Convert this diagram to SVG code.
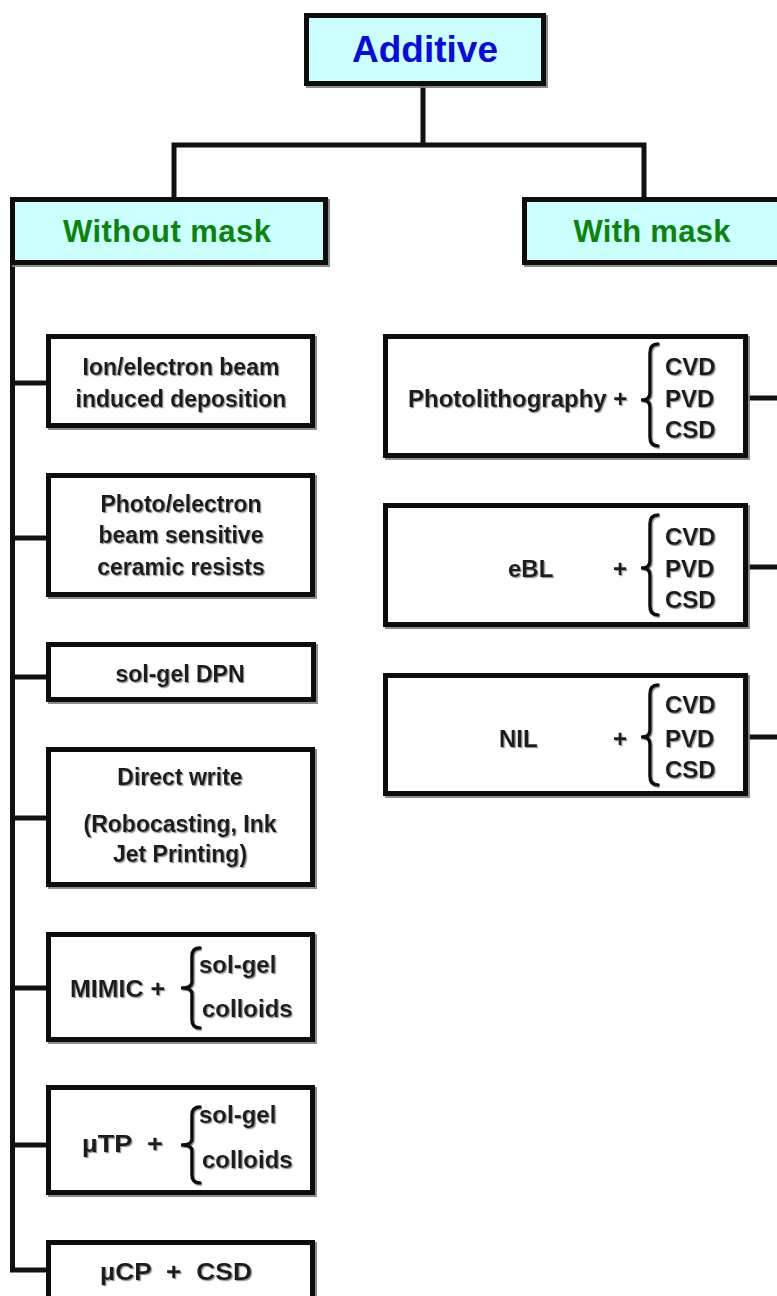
<svg xmlns="http://www.w3.org/2000/svg" width="777" height="1296" viewBox="0 0 777 1296">
<defs>
<filter id="sh" x="-5%" y="-5%" width="115%" height="120%"><feDropShadow dx="2" dy="2" stdDeviation="0.6" flood-color="#808080" flood-opacity="0.9"/></filter>
<filter id="tsh" x="-5%" y="-10%" width="115%" height="130%"><feDropShadow dx="1.2" dy="1.2" stdDeviation="0.5" flood-color="#8a8a8a" flood-opacity="0.9"/></filter>
</defs>
<style>
.box{fill:#ffffff;stroke:#111111;stroke-width:5;filter:url(#sh)}
.hbox{fill:#ccffff;stroke:#111111;stroke-width:5;filter:url(#sh)}
.con{fill:none;stroke:#111111;stroke-width:5;stroke-linejoin:miter;stroke-linecap:square}
.brace{fill:none;stroke:#111111;stroke-width:3.5;stroke-linecap:round;stroke-linejoin:round;filter:url(#tsh)}
.t{font-family:"Liberation Sans",Arial,sans-serif;font-weight:bold;fill:#1a1a1a;filter:url(#tsh)}
.l{font-size:23px;text-anchor:middle}
.r{font-size:24px}
.h1{font-family:"Liberation Sans",Arial,sans-serif;font-weight:bold;font-size:37px;fill:#0a0ae0;text-anchor:middle}
.h2{font-family:"Liberation Sans",Arial,sans-serif;font-weight:bold;font-size:31px;fill:#0a850a;text-anchor:middle}
</style>

<g id="connectors">
<path class="con" d="M423,86 V145 M174,197 V145 H644 V197"/>
<path class="con" d="M12.5,265 V1270 H46"/>
<path class="con" d="M12.5,383 H46 M12.5,538 H46 M12.5,677 H46 M12.5,818 H46 M12.5,988 H46 M12.5,1145 H46"/>
<path class="con" d="M748,398 H780 M748,567 H780 M748,737 H780"/>
</g>

<g id="additive">
<rect class="hbox" x="306.5" y="15.5" width="237" height="68"/>
<text class="h1" x="425" y="62">Additive</text>
</g>

<g id="without-mask">
<rect class="hbox" x="12.5" y="199.5" width="313" height="63"/>
<text class="h2" x="167" y="242" textLength="208" lengthAdjust="spacing">Without mask</text>
</g>

<g id="with-mask">
<rect class="hbox" x="524.5" y="199.5" width="260" height="63"/>
<text class="h2" x="652" y="242" textLength="157" lengthAdjust="spacing">With mask</text>
</g>

<g id="ion-beam">
<rect class="box" x="48.5" y="336.5" width="264" height="89"/>
<text class="t l" x="181" y="375">Ion/electron beam</text>
<text class="t l" x="181" y="407">induced deposition</text>
</g>

<g id="photo-resists">
<rect class="box" x="48.5" y="475.5" width="264" height="119"/>
<text class="t l" x="181" y="512">Photo/electron</text>
<text class="t l" x="181" y="543">beam sensitive</text>
<text class="t l" x="181" y="575">ceramic resists</text>
</g>

<g id="sol-gel-dpn">
<rect class="box" x="48.5" y="644.5" width="265" height="55"/>
<text class="t l" x="180" y="682">sol-gel DPN</text>
</g>

<g id="direct-write">
<rect class="box" x="48.5" y="749.5" width="264" height="135"/>
<text class="t l" x="180" y="785">Direct write</text>
<text class="t l" x="180" y="832">(Robocasting, Ink</text>
<text class="t l" x="180" y="862">Jet Printing)</text>
</g>

<g id="mimic">
<rect class="box" x="48.5" y="934.5" width="264" height="105"/>
<text class="t r" x="70" y="997" textLength="95" lengthAdjust="spacingAndGlyphs">MIMIC +</text>
<path class="brace" d="M200,948 Q192,948 192,956 L192,982 Q192,988 182,988 Q192,988 192,994 L192,1020 Q192,1028 200,1028"/>
<text class="t r" x="199" y="973">sol-gel</text>
<text class="t r" x="202" y="1017">colloids</text>
</g>

<g id="utp">
<rect class="box" x="48.5" y="1087.5" width="264" height="105"/>
<text class="t r" x="82" y="1152" xml:space="preserve" textLength="81" lengthAdjust="spacingAndGlyphs">µTP  +</text>
<path class="brace" d="M200,1107 Q192,1107 192,1115 L192,1139 Q192,1145 182,1145 Q192,1145 192,1151 L192,1175 Q192,1183 200,1183"/>
<text class="t r" x="199" y="1123">sol-gel</text>
<text class="t r" x="202" y="1168">colloids</text>
</g>

<g id="ucp">
<rect class="box" x="48.5" y="1242.5" width="264" height="60"/>
<text class="t r" x="100" y="1280" xml:space="preserve" textLength="152" lengthAdjust="spacingAndGlyphs">µCP  +  CSD</text>
</g>

<g id="photolithography">
<rect class="box" x="385.5" y="336.5" width="360" height="119"/>
<text class="t r" x="408" y="407">Photolithography +</text>
<path class="brace" d="M658,344 Q650,344 650,353 L650,393 Q650,400 642,400 Q650,400 650,407 L650,437 Q650,446 658,446"/>
<text class="t r" x="665" y="375">CVD</text>
<text class="t r" x="665" y="407">PVD</text>
<text class="t r" x="665" y="438">CSD</text>
</g>

<g id="ebl">
<rect class="box" x="385.5" y="505.5" width="360" height="119"/>
<text class="t r" x="508" y="577">eBL</text>
<text class="t r" x="613" y="577">+</text>
<path class="brace" d="M658,515 Q650,515 650,524 L650,561 Q650,568 642,568 Q650,568 650,575 L650,606 Q650,615 658,615"/>
<text class="t r" x="665" y="545">CVD</text>
<text class="t r" x="665" y="577">PVD</text>
<text class="t r" x="665" y="608">CSD</text>
</g>

<g id="nil">
<rect class="box" x="385.5" y="675.5" width="360" height="118"/>
<text class="t r" x="499" y="747">NIL</text>
<text class="t r" x="613" y="747">+</text>
<path class="brace" d="M658,685 Q650,685 650,694 L650,730 Q650,737 642,737 Q650,737 650,744 L650,776 Q650,785 658,785"/>
<text class="t r" x="665" y="713">CVD</text>
<text class="t r" x="665" y="747">PVD</text>
<text class="t r" x="665" y="778">CSD</text>
</g>
</svg>
